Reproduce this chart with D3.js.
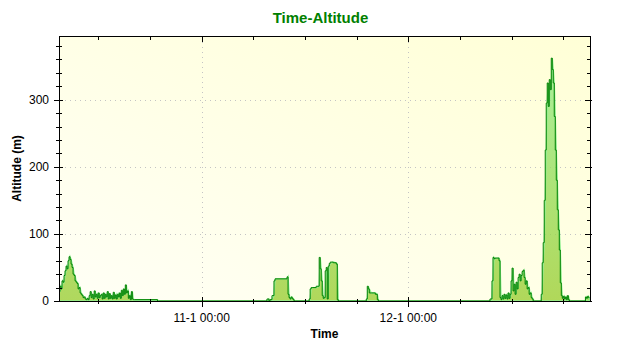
<!DOCTYPE html>
<html>
<head>
<meta charset="utf-8">
<script src="https://cdn.jsdelivr.net/npm/d3@7"></script>
<style>
  body { margin: 0; background: #fff; }
  text { font-family: "Liberation Sans", Arial, sans-serif; }
</style>
</head>
<body>
<svg id="chart" width="640" height="350"></svg>
<script>
// Data (day hh:mm, January) //
const times = [
  '10 07:26','10 07:33','10 07:40','10 07:47','10 07:54','10 08:01','10 08:08','10 08:15','10 08:22','10 08:29',
  '10 08:36','10 08:43','10 08:50','10 08:57','10 09:04','10 09:11','10 09:18','10 09:25','10 09:32','10 09:39',
  '10 09:46','10 09:53','10 10:00','10 10:07','10 10:14','10 10:21','10 10:28','10 10:35','10 10:42','10 10:49',
  '10 10:56','10 11:03','10 11:10','10 11:17','10 11:24','10 11:31','10 11:38','10 11:45','10 11:52','10 11:59',
  '10 12:06','10 12:13','10 12:20','10 12:27','10 12:34','10 12:41','10 12:48','10 12:55','10 13:02','10 13:09',
  '10 13:16','10 13:23','10 13:30','10 13:37','10 13:44','10 13:51','10 13:58','10 14:05','10 14:12','10 14:19',
  '10 14:26','10 14:33','10 14:40','10 14:47','10 14:54','10 15:01','10 15:08','10 15:15','10 15:22','10 15:29',
  '10 15:36','10 15:43','10 15:50','10 15:57','10 16:04','10 16:11','10 18:52','10 18:59',
  '11 07:35','11 07:49','11 07:56','11 08:10','11 08:24','11 08:31','11 08:38','11 09:20','11 09:55','11 10:02',
  '11 10:09','11 10:16','11 10:23','11 10:30','11 10:37','11 10:44','11 10:51','11 12:29','11 12:36','11 12:43',
  '11 12:50','11 13:18','11 13:39','11 13:46','11 13:53','11 14:00','11 14:07','11 14:14','11 14:21','11 14:28',
  '11 14:35','11 14:42','11 14:49','11 14:56','11 15:17','11 15:38','11 15:45','11 15:52','11 15:59',
  '11 19:07','11 19:14','11 19:21','11 19:28','11 19:42','11 20:10','11 20:24','11 20:31','11 20:38',
  '12 09:29','12 09:43','12 09:50','12 09:57','12 10:04','12 10:32','12 10:39','12 10:46','12 10:53','12 11:00',
  '12 11:07','12 11:14','12 11:21','12 11:28','12 11:35','12 11:42','12 11:49','12 11:56','12 12:03','12 12:10',
  '12 12:17','12 12:24','12 12:31','12 12:38','12 12:45','12 12:52','12 12:59','12 13:06','12 13:13','12 13:20',
  '12 13:27','12 13:34','12 13:41','12 13:48','12 13:55','12 14:02','12 14:09','12 14:16','12 14:23','12 14:30',
  '12 14:37','12 15:26','12 15:33','12 15:40','12 15:47','12 15:54','12 16:01','12 16:08','12 16:15','12 16:22',
  '12 16:29','12 16:36','12 16:43','12 16:50','12 16:57','12 17:04','12 17:11','12 17:18','12 17:25','12 17:32',
  '12 17:39','12 17:46','12 17:53','12 18:00','12 18:07','12 18:14','12 18:21','12 18:28','12 18:35','12 18:42',
  '12 18:49','12 20:34','12 20:41','12 20:48','12 20:55','12 21:02'
]
const altitudes = [
  20, 14, 22, 18, 30, 28, 38, 45, 52, 48,
  60, 66, 62, 55, 50, 40, 38, 30, 28, 26,
  18, 20, 12, 10, 8, 5, 6, 3, 2, 4,
  2, 8, 14, 5, 10, 3, 15, 6, 10, 4,
  12, 5, 8, 10, 3, 12, 4, 10, 6, 14,
  3, 11, 4, 8, 3, 13, 4, 9, 3, 10,
  6, 12, 4, 16, 8, 18, 10, 24, 12, 15,
  4, 8, 2, 14, 3, 2, 2, 0,
  0, 3, 0, 2, 8, 30, 33, 33, 33, 36,
  10, 5, 3, 6, 4, 2, 0, 0, 3, 18,
  20, 20, 22, 65, 48, 30, 8, 4, 5, 45,
  50, 3, 52, 56, 58, 57, 55, 2, 0,
  0, 3, 22, 18, 12, 12, 10, 2, 0,
  0, 3, 30, 65, 63, 64, 60, 5, 2, 8,
  3, 10, 4, 9, 3, 12, 4, 10, 30, 49,
  15, 25, 10, 28, 18, 35, 40, 30, 38, 44,
  46, 35, 25, 30, 18, 20, 10, 12, 5, 3,
  0, 0, 10, 57, 87, 150, 225, 295, 325, 290,
  330, 315, 362, 345, 325, 275, 225, 180, 136, 106,
  76, 27, 8, 4, 7, 3, 6, 2, 8, 2,
  0, 0, 6, 4, 7, 5
]

const xDomain = ['10 07:26', '12 21:06']
const xMajorTicks = ['11 00:00', '12 00:00']
const yMax = 395
const yMajorTicks = [0, 100, 200, 300]

// Geometry //
const plot = { left: 59, right: 590, top: 36, bottom: 301 }
const colors = { title: '#008000', line: '#008000', halo: '#90ee90', grid: '#c4c4c4' }

const parse = d3.utcParse('%d %H:%M')
const data = times.map((t, i) => ({ date: parse(t), alt: altitudes[i] }))

// Scales //
const x = d3.scaleUtc()
  .domain(xDomain.map(parse))
  .range([plot.left, plot.right])

const y = d3.scaleLinear()
  .domain([0, yMax])
  .range([plot.bottom, plot.top])

const xMajor = xMajorTicks.map(parse)
const xMinor = d3.utcHour.every(6).range(x.domain()[0], x.domain()[1])
const yMinor = d3.range(0, yMax, 20)

// SVG //
const svg = d3.select('#chart')
const defs = svg.append('defs')

const bg = defs.append('linearGradient')
  .attr('id', 'bg').attr('x1', 0).attr('y1', 1).attr('x2', 1).attr('y2', 0)
bg.append('stop').attr('offset', 0).attr('stop-color', '#fffff6')
bg.append('stop').attr('offset', 1).attr('stop-color', '#ffffd6')

const fill = defs.append('linearGradient')
  .attr('id', 'fill').attr('gradientUnits', 'userSpaceOnUse')
  .attr('x1', 0).attr('y1', plot.top).attr('x2', 0).attr('y2', plot.bottom)
fill.append('stop').attr('offset', 0).attr('stop-color', '#90ee90')
fill.append('stop').attr('offset', 1).attr('stop-color', '#9acd32')

defs.append('clipPath').attr('id', 'plot-clip')
  .append('rect')
    .attr('x', plot.left).attr('y', plot.top)
    .attr('width', plot.right - plot.left).attr('height', plot.bottom - plot.top)

svg.append('rect')
  .attr('x', plot.left).attr('y', plot.top)
  .attr('width', plot.right - plot.left).attr('height', plot.bottom - plot.top)
  .attr('fill', 'url(#bg)')

// grid
const grid = svg.append('g')
  .attr('stroke', colors.grid)
  .attr('stroke-dasharray', '1,4')
grid.selectAll('line.h')
  .data(yMajorTicks.filter(d => d > 0))
  .join('line')
    .attr('class', 'h')
    .attr('x1', plot.left + 6).attr('x2', plot.right - 5)
    .attr('y1', d => Math.round(y(d)) + 0.5).attr('y2', d => Math.round(y(d)) + 0.5)
grid.selectAll('line.v')
  .data(xMajor)
  .join('line')
    .attr('class', 'v')
    .attr('y1', plot.top + 6).attr('y2', plot.bottom - 4)
    .attr('x1', d => Math.round(x(d)) + 0.5).attr('x2', d => Math.round(x(d)) + 0.5)

// altitude
const series = svg.append('g').attr('clip-path', 'url(#plot-clip)')
series.append('path')
  .datum(data)
  .attr('fill', 'url(#fill)')
  .attr('fill-opacity', 0.78)
  .attr('stroke', colors.halo)
  .attr('stroke-width', 1.4)
  .attr('d', d3.area().x(d => x(d.date)).y0(y(0)).y1(d => y(d.alt)))
series.append('path')
  .datum(data)
  .attr('fill', 'none')
  .attr('stroke', colors.line)
  .attr('stroke-width', 1)
  .attr('d', d3.line().x(d => x(d.date)).y(d => y(d.alt)).curve(d3.curveStepBefore))

// frame and ticks
svg.append('rect')
  .attr('x', plot.left + 0.5).attr('y', plot.top + 0.5)
  .attr('width', plot.right - plot.left).attr('height', plot.bottom - plot.top)
  .attr('fill', 'none').attr('stroke', '#000')

const ticks = svg.append('g').attr('stroke', '#000')
const isMajorY = d => yMajorTicks.includes(d)
const isMajorX = d => xMajor.some(m => +m === +d)
const ry = d => Math.round(y(d)) + 0.5
const rx = d => Math.round(x(d)) + 0.5

ticks.selectAll('line.yl').data(yMinor).join('line')
  .attr('class', 'yl')
  .attr('x1', d => plot.left - (isMajorY(d) ? 5 : 3)).attr('x2', d => plot.left + (isMajorY(d) ? 4 : 3))
  .attr('y1', ry).attr('y2', ry)
ticks.selectAll('line.yr').data(yMinor).join('line')
  .attr('class', 'yr')
  .attr('x1', d => plot.right - (isMajorY(d) ? 5 : 3)).attr('x2', d => plot.right + (isMajorY(d) ? 2 : 1))
  .attr('y1', ry).attr('y2', ry)
ticks.selectAll('line.xb').data(xMinor).join('line')
  .attr('class', 'xb')
  .attr('x1', rx).attr('x2', rx)
  .attr('y1', d => plot.bottom - (isMajorX(d) ? 4 : 2)).attr('y2', d => plot.bottom + (isMajorX(d) ? 6 : 3))
ticks.selectAll('line.xt').data(xMinor).join('line')
  .attr('class', 'xt')
  .attr('x1', rx).attr('x2', rx)
  .attr('y1', plot.top).attr('y2', d => plot.top + (isMajorX(d) ? 6 : 4))

// labels
const fmt = d3.utcFormat('%-d-%-m %H:%M')
svg.append('g')
  .selectAll('text')
  .data(yMajorTicks)
  .join('text')
    .attr('x', plot.left - 10)
    .attr('y', d => y(d))
    .attr('dy', '0.35em')
    .attr('text-anchor', 'end')
    .attr('font-size', 12)
    .text(d => d)
svg.append('g')
  .selectAll('text')
  .data(xMajor)
  .join('text')
    .attr('x', d => x(d))
    .attr('y', 322)
    .attr('text-anchor', 'middle')
    .attr('font-size', 12)
    .text(fmt)

svg.append('text')
  .attr('x', (plot.left + plot.right) / 2 - 4)
  .attr('y', 23)
  .attr('text-anchor', 'middle')
  .attr('font-size', 15)
  .attr('font-weight', 'bold')
  .attr('fill', colors.title)
  .text('Time-Altitude')

svg.append('text')
  .attr('x', (plot.left + plot.right) / 2)
  .attr('y', 338)
  .attr('text-anchor', 'middle')
  .attr('font-size', 12)
  .attr('font-weight', 'bold')
  .text('Time')

svg.append('text')
  .attr('transform', 'translate(21,' + (plot.top + plot.bottom) / 2 + ') rotate(-90)')
  .attr('text-anchor', 'middle')
  .attr('font-size', 12)
  .attr('font-weight', 'bold')
  .text('Altitude (m)')
</script>
</body>
</html>
